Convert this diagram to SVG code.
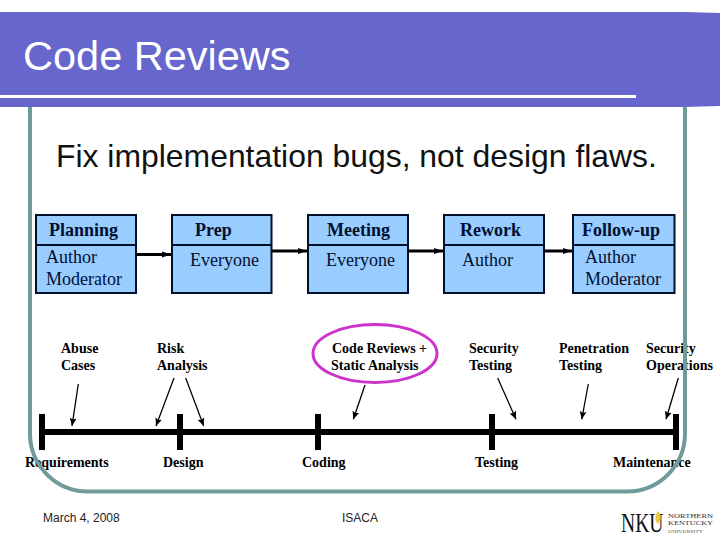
<svg xmlns="http://www.w3.org/2000/svg" width="720" height="540" viewBox="0 0 720 540">
<style>
.s{font-family:"Liberation Serif","Times New Roman",serif;fill:#000}
.b{font-size:18px;font-weight:bold;fill:#001030}
.r{font-size:18px;fill:#001030}
.l{font-size:14px;font-weight:bold}
.f{font-family:"Liberation Sans",Arial,sans-serif;font-size:12px;fill:#222}
.box{fill:#99ccff;stroke:#00102a;stroke-width:2}
.flow{stroke:#000;stroke-width:3;fill:none;marker-end:url(#fa)}
.thin{stroke:#000;stroke-width:1.3;fill:none;marker-end:url(#ta)}
</style>
<defs>
<marker id="fa" markerUnits="userSpaceOnUse" markerWidth="10" markerHeight="8" refX="9" refY="4" orient="auto"><path d="M0 1L9 4L0 7z" fill="#000"/></marker>
<marker id="ta" markerUnits="userSpaceOnUse" markerWidth="9" markerHeight="8" refX="8" refY="4" orient="auto"><path d="M0 0.5L8 4L0 7.5L1.500 4z" fill="#000"/></marker>
</defs>
<rect width="720" height="540" fill="#fff"/>
<g id="header">
<path d="M0 12H684L720 13V106L684 107H0z" fill="#6666cc"/>
<rect x="0" y="95" width="636" height="3" fill="#fff"/>
<text x="23" y="70" font-family="Liberation Sans,Arial,sans-serif" font-size="41.500" fill="#fff">Code Reviews</text>
</g>
<text id="subtitle" x="56" y="167" font-family="Liberation Sans,Arial,sans-serif" font-size="31.900" fill="#111">Fix implementation bugs, not design flaws.</text>
<g id="planning"><rect class="box" x="36" y="215" width="100" height="78"/><path d="M36 245H136" stroke="#00102a" stroke-width="2"/><text class="s b" x="49" y="236">Planning</text><text class="s r" x="46" y="263">Author</text><text class="s r" x="46" y="285">Moderator</text></g>
<g id="prep"><rect class="box" x="172" y="215" width="99.500" height="78"/><path d="M172 245H271.500" stroke="#00102a" stroke-width="2"/><text class="s b" x="195" y="236">Prep</text><text class="s r" x="190" y="266">Everyone</text></g>
<g id="meeting"><rect class="box" x="308" y="215" width="100" height="78"/><path d="M308 245H408" stroke="#00102a" stroke-width="2"/><text class="s b" x="327" y="236">Meeting</text><text class="s r" x="326" y="266">Everyone</text></g>
<g id="rework"><rect class="box" x="444" y="215" width="100" height="78"/><path d="M444 245H544" stroke="#00102a" stroke-width="2"/><text class="s b" x="460" y="236">Rework</text><text class="s r" x="462" y="266">Author</text></g>
<g id="followup"><rect class="box" x="573" y="215" width="101.500" height="78"/><path d="M573 245H674.500" stroke="#00102a" stroke-width="2"/><text class="s b" x="582" y="236">Follow-up</text><text class="s r" x="585" y="263">Author</text><text class="s r" x="585" y="285">Moderator</text></g>
<g id="connectors">
<path class="flow" d="M136 254.500H171"/><path class="flow" d="M271.500 251H307"/><path class="flow" d="M408 251H443"/><path class="flow" d="M544 251H572"/>
<path d="M42 432H676" stroke="#000" stroke-width="6"/>
<path d="M42 414V450M180 414V450M318 414V450M492 414V450M676 414V450" stroke="#000" stroke-width="6" fill="none"/>
<path class="thin" d="M78.300 384L72 426"/><path class="thin" d="M174 378L156 426"/><path class="thin" d="M185.700 378L203.700 426"/><path class="thin" d="M365 385L353.300 419.300"/><path class="thin" d="M497.700 378L516 419.300"/><path class="thin" d="M588.300 384L581.700 419.300"/><path class="thin" d="M678.300 378L666 419.300"/>
</g>
<ellipse id="highlight" cx="375" cy="353.500" rx="62" ry="29" fill="none" stroke="#cc33cc" stroke-width="3"/>
<g id="activities">
<text class="s l" x="61" y="353">Abuse</text><text class="s l" x="61" y="370">Cases</text>
<text class="s l" x="157" y="353">Risk</text><text class="s l" x="157" y="370">Analysis</text>
<text class="s l" x="332" y="353">Code Reviews +</text><text class="s l" x="331" y="370">Static Analysis</text>
<text class="s l" x="469" y="353">Security</text><text class="s l" x="469" y="370">Testing</text>
<text class="s l" x="559" y="353">Penetration</text><text class="s l" x="559" y="370">Testing</text>
<text class="s l" x="646" y="353">Security</text><text class="s l" x="646" y="370">Operations</text>
</g>
<g id="phases">
<text class="s l" x="25" y="467">Requirements</text><text class="s l" x="163" y="467">Design</text><text class="s l" x="302" y="467">Coding</text><text class="s l" x="475" y="467">Testing</text><text class="s l" x="613" y="467">Maintenance</text>
</g>
<path id="frame" d="M30 107V433A58 58 0 0 0 88 491.500H627A58 58 0 0 0 685 433V107" fill="none" stroke="#6f9b9b" stroke-width="4"/>
<g id="footer"><text class="f" x="43" y="522">March 4, 2008</text><text class="f" x="342" y="522">ISACA</text></g>
<g id="logo">
<text transform="translate(621 532) scale(0.7 1)" font-family="Liberation Serif,serif" font-size="28" fill="#111">NKU</text>
<path d="M658 511C662 515 661 520 658 524C654 520 655 515 658 511z" fill="#e8c840"/>
<text x="668" y="518" font-family="Liberation Serif,serif" font-size="6" fill="#333" textLength="45" lengthAdjust="spacingAndGlyphs">NORTHERN</text>
<text x="668" y="525" font-family="Liberation Serif,serif" font-size="6" fill="#333" textLength="45" lengthAdjust="spacingAndGlyphs">KENTUCKY</text>
<text x="668" y="532.500" font-family="Liberation Serif,serif" font-size="5" fill="#555" textLength="35" lengthAdjust="spacingAndGlyphs">UNIVERSITY</text>
</g>
</svg>
